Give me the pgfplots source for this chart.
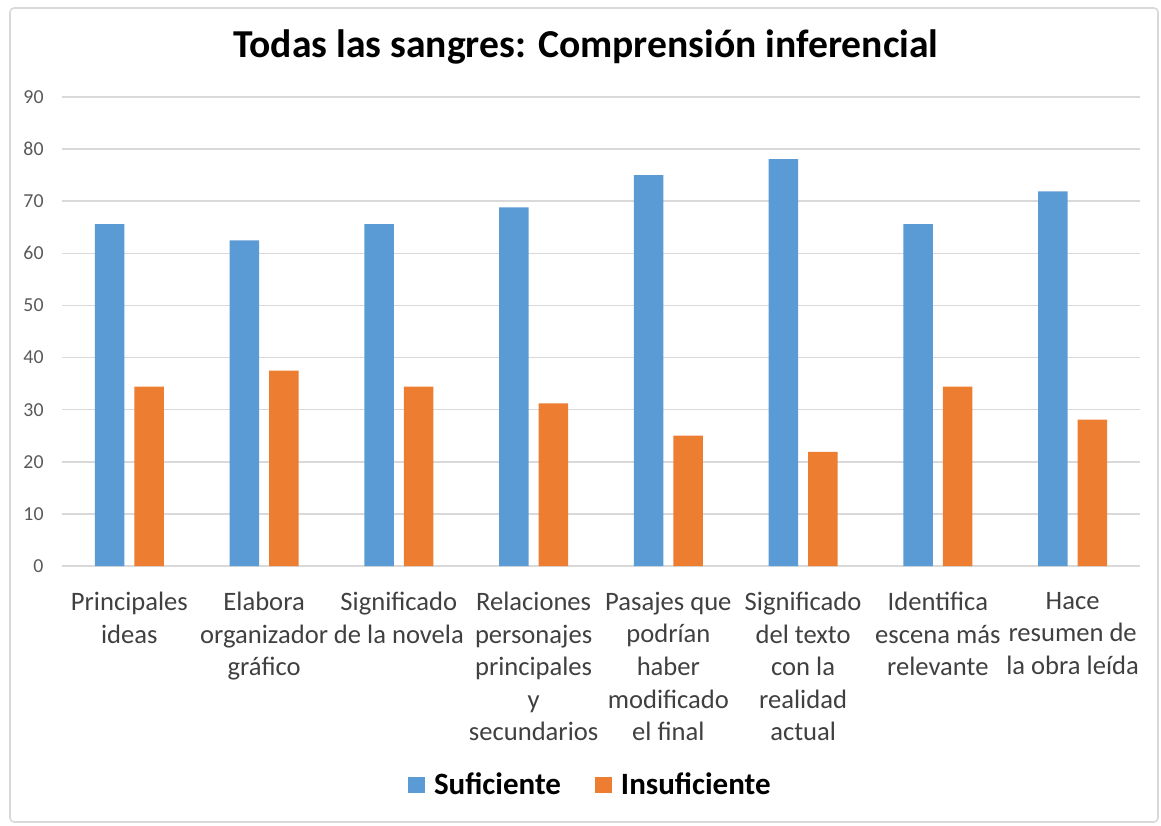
\documentclass[border=0pt]{standalone}
\usepackage{pgfplots}
\pgfplotsset{compat=1.18}
\usepackage{fontspec}
\setmainfont{Carlito}
\definecolor{cblue}{HTML}{5B9BD5}
\definecolor{corange}{HTML}{ED7D31}
\definecolor{gridc}{HTML}{D9D9D9}
\definecolor{tickc}{HTML}{595959}
\definecolor{labc}{HTML}{404040}
\begin{document}
\begin{tikzpicture}
\path[use as bounding box] (0,0) rectangle (580.5pt,412.5pt);
\draw[gridc, line width=0.8pt, rounded corners=2pt] (5pt,1.5pt) rectangle (579pt,408.5pt);
\node[font=\fontsize{19.8}{24}\selectfont\bfseries, text=black] at (293pt,389pt) {Todas las sangres: Comprensión inferencial};
\begin{axis}[
  at={(31pt,129.5pt)}, anchor=south west,
  width=539pt, height=234.5pt, scale only axis,
  ybar=5pt, bar width=14.75pt,
  ymin=0, ymax=90, ytick={0,10,...,90},
  xmin=-0.5, xmax=7.5,
  xtick={0,...,7},
  xticklabels={Principales\\ideas, Elabora\\organizador\\gráfico, Significado\\de la novela, Relaciones\\personajes\\principales\\y\\secundarios, Pasajes que\\podrían\\haber\\modificado\\el final, Significado\\del texto\\con la\\realidad\\actual, Identifica\\escena más\\relevante, Hace\\resumen de\\la obra leída},
  xticklabel style={align=center, font=\fontsize{13.3}{16.3}\selectfont, text=labc, yshift=-9.5pt},
  yticklabel style={font=\fontsize{9.9}{12}\selectfont, text=tickc, xshift=-5.7pt},
  /pgf/number format/assume math mode=true,
  axis line style={draw=none},
  ymajorgrids, grid style={gridc, line width=0.8pt},
  major tick length=0pt,
  tick style={draw=none},
  legend style={at={(0.491,-0.467)}, anchor=center, draw=none, legend columns=-1,
    font=\fontsize{15.5}{18}\selectfont\bfseries,
    /tikz/every even column/.append style={column sep=15pt}},
  legend image code/.code={\fill[#1] (0pt,-4.2pt) rectangle (8.4pt,4.2pt); \path (11pt,0pt);},
]
\addplot[fill=cblue, draw=none] coordinates {(0,65.6) (1,62.5) (2,65.6) (3,68.8) (4,75.0) (5,78.1) (6,65.6) (7,71.9)};
\addplot[fill=corange, draw=none] coordinates {(0,34.4) (1,37.5) (2,34.4) (3,31.2) (4,25.0) (5,21.9) (6,34.4) (7,28.1)};
\legend{Suficiente, Insuficiente}
\end{axis}
\end{tikzpicture}
\end{document}
